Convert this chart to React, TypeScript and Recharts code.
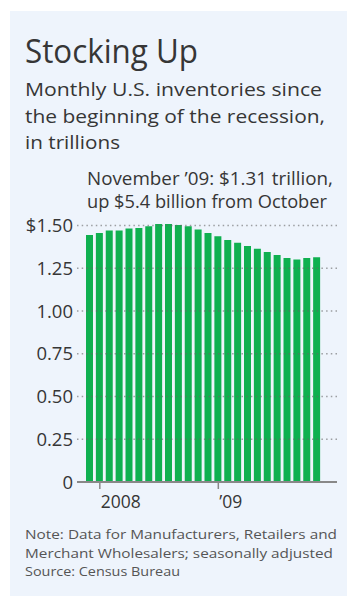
import React from "react";
import { BarChart, Bar, XAxis, YAxis, ReferenceLine } from "recharts";

// Dec 2007 (start of recession) through Nov 2009
const months = [
  "Dec 07", "Jan 08", "Feb 08", "Mar 08", "Apr 08", "May 08", "Jun 08", "Jul 08",
  "Aug 08", "Sep 08", "Oct 08", "Nov 08", "Dec 08", "Jan 09", "Feb 09", "Mar 09",
  "Apr 09", "May 09", "Jun 09", "Jul 09", "Aug 09", "Sep 09", "Oct 09", "Nov 09",
];

// inventories, trillions of dollars
const inventories = [
  1.444, 1.457, 1.471, 1.471, 1.483, 1.486, 1.496, 1.509,
  1.509, 1.503, 1.496, 1.477, 1.457, 1.438, 1.416, 1.399,
  1.380, 1.364, 1.345, 1.327, 1.310, 1.302, 1.310, 1.314,
];

const yTicks = [0, 0.25, 0.5, 0.75, 1.0, 1.25, 1.5];
const xTicks = ["Jan 08", "Jan 09"];
const xTickLabels: Record<string, string> = { "Jan 08": "2008", "Jan 09": "\u201909" };

const data = months.map((m, i) => ({ month: m, value: inventories[i] }));

const FONT = "'Open Sans', sans-serif";
const INK = "#363636";

const fmtY = (v: number) => (v === 1.5 ? "$1.50" : v === 0 ? "0" : v.toFixed(2));

const XTick = (props: any) => {
  const { x, y, payload } = props;
  return (
    <text x={x + 1} y={y + 17} textAnchor="start" fill={INK} fontSize={17.5} fontWeight={500} fontFamily={FONT}>
      {xTickLabels[payload.value]}
    </text>
  );
};

// text line with width fitted to the reference
const Line = ({ x, y, w, size, weight = 400, fill = INK, children }: any) => (
  <text x={x} y={y} fontSize={size} fontWeight={weight} fill={fill} textLength={w} lengthAdjust="spacingAndGlyphs">
    {children}
  </text>
);

export default function App() {
  return (
    <div style={{ position: "absolute", left: 0, top: 0, width: 347, height: 596, background: "#fff" }}>
      <div style={{ position: "absolute", left: 10, top: 11, width: 337, height: 585, background: "#eef4fc" }} />
      <div style={{ position: "absolute", left: 0, top: 0 }}>
        <BarChart
          width={347}
          height={522}
          data={data}
          margin={{ top: 224, right: 10, bottom: 0, left: 0 }}
        >
          <XAxis
            dataKey="month"
            ticks={xTicks}
            interval={0}
            padding={{ left: 8, right: 15 }}
            height={40}
            axisLine={{ stroke: "#888", strokeWidth: 2 }}
            tickLine={{ stroke: "#888", strokeWidth: 1.5 }}
            tickSize={7}
            tick={<XTick />}
          />
          <YAxis
            type="number"
            domain={[0, 1.5]}
            ticks={yTicks}
            width={77}
            axisLine={false}
            tickLine={false}
            tickSize={0}
            tickMargin={4}
            tickFormatter={fmtY}
            tick={{ fill: INK, fontSize: 18.5, fontWeight: 500, fontFamily: FONT }}
          />
          <Bar dataKey="value" fill="#0fb050" barSize={7} isAnimationActive={false} />
          {yTicks.filter((t) => t > 0).map((t) => (
            <ReferenceLine
              key={t}
              y={t}
              stroke="#666"
              strokeOpacity={0.6}
              strokeWidth={1.5}
              strokeDasharray="1.5 3.2"
            />
          ))}
        </BarChart>
      </div>
      <svg
        width={347}
        height={596}
        style={{ position: "absolute", left: 0, top: 0, pointerEvents: "none" }}
        fontFamily={FONT}
      >
        <Line x={25} y={63} w={173} size={32} weight={500}>Stocking Up</Line>
        <Line x={25} y={96} w={297} size={19} weight={500}>Monthly U.S. inventories since</Line>
        <Line x={25} y={122.5} w={300} size={19} weight={500}>the beginning of the recession,</Line>
        <Line x={25} y={149} w={95} size={19} weight={500}>in trillions</Line>
        <Line x={87} y={185} w={246} size={18} weight={500}>November {"\u2019"}09: $1.31 trillion,</Line>
        <Line x={87} y={208} w={240} size={18} weight={500}>up $5.4 billion from October</Line>
        <Line x={25} y={539} w={312} size={13.5} fill="#555">Note: Data for Manufacturers, Retailers and</Line>
        <Line x={25} y={557.5} w={308} size={13.5} fill="#555">Merchant Wholesalers; seasonally adjusted</Line>
        <Line x={25} y={576} w={155} size={13.5} fill="#555">Source: Census Bureau</Line>
      </svg>
    </div>
  );
}
